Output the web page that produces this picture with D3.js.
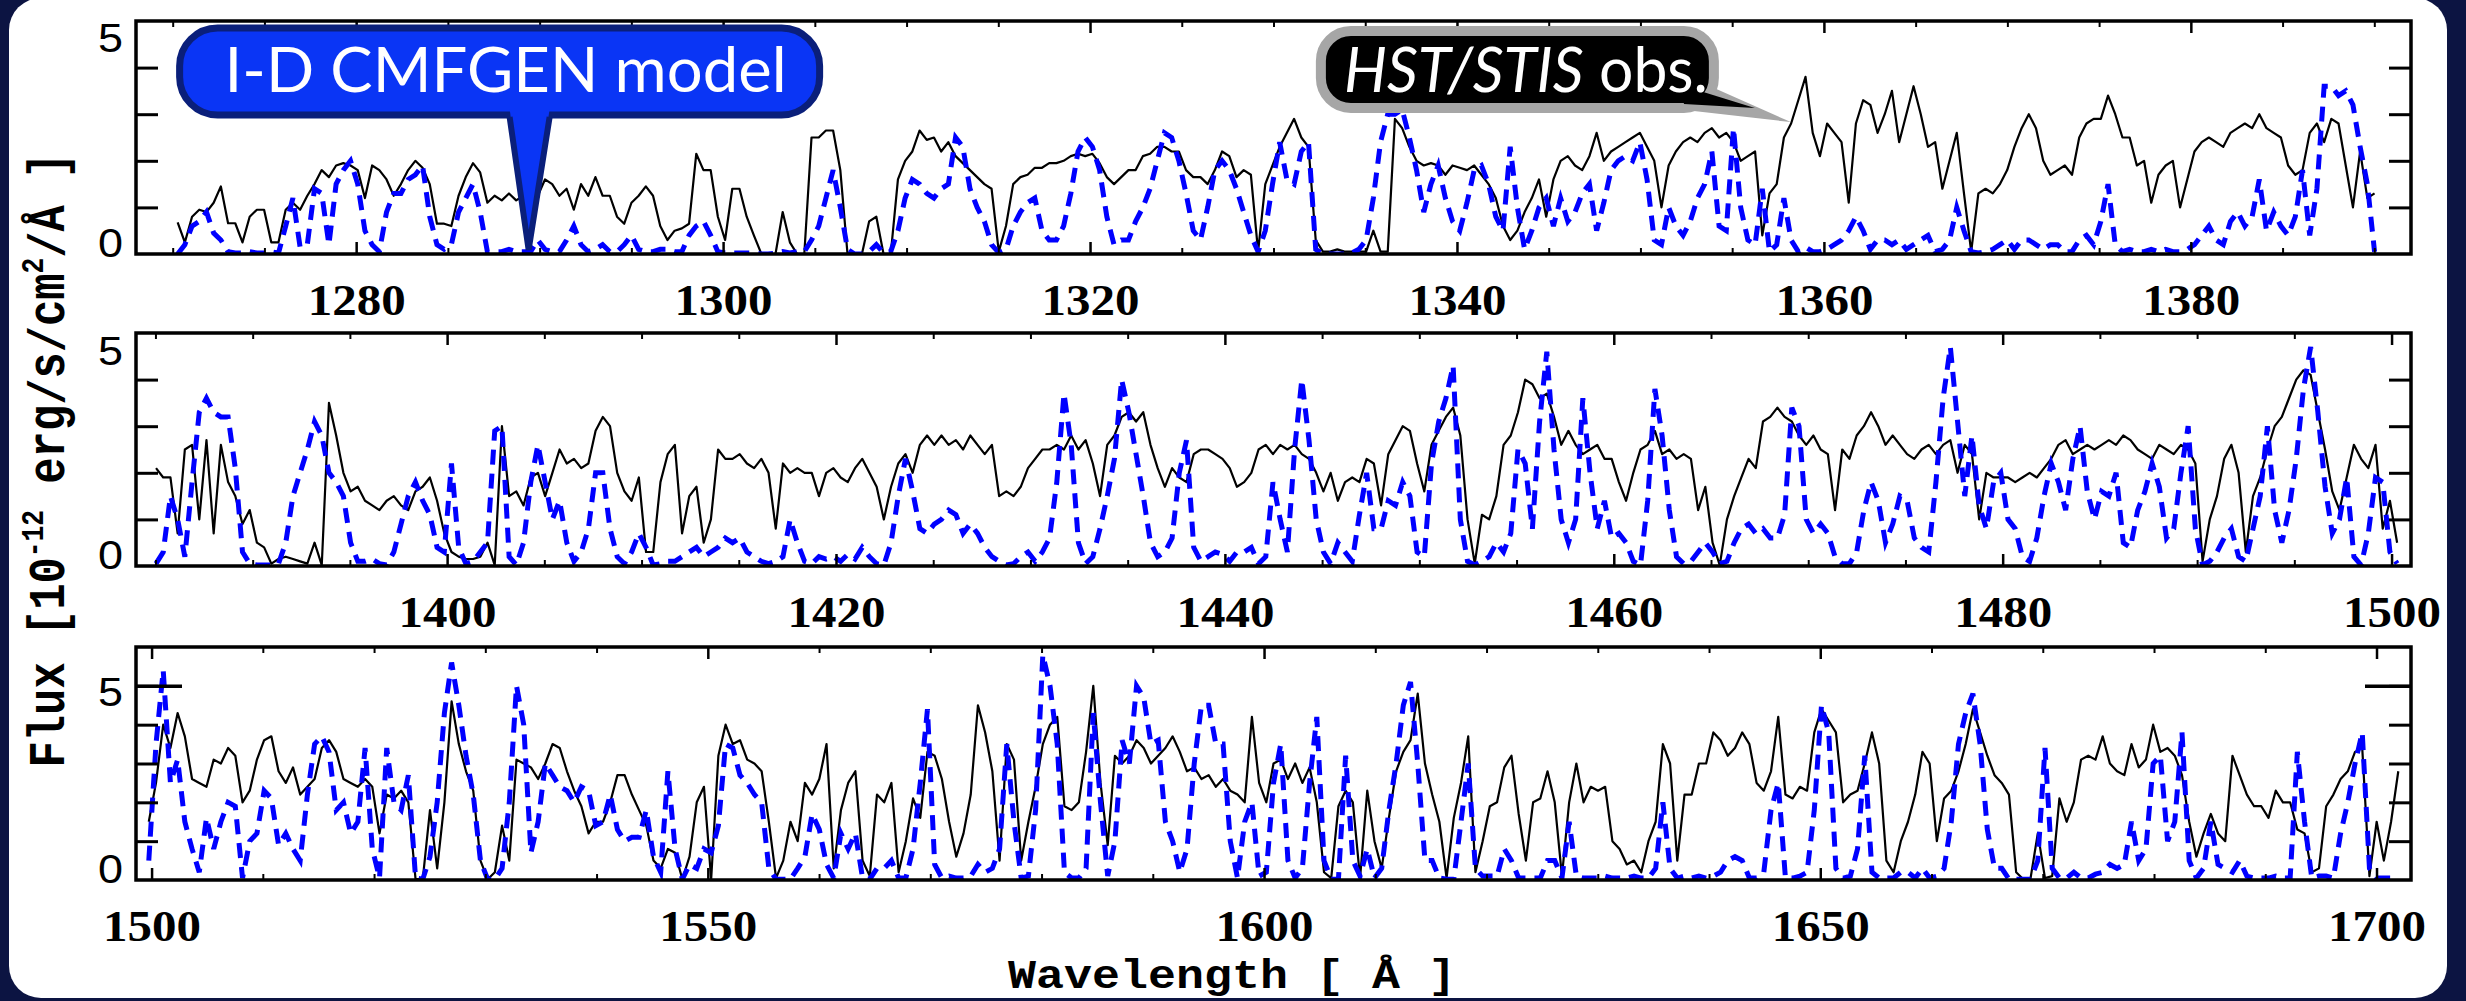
<!DOCTYPE html>
<html>
<head>
<meta charset="utf-8">
<script src="https://cdn.jsdelivr.net/npm/d3@7"></script>
<style>
  html, body { margin: 0; padding: 0; background: #0c1442; }
  svg { display: block; }
</style>
</head>
<body>
<svg id="chart" width="2466" height="1001"></svg>
<script>
// --- spectra (flux in 1e-12 erg/s/cm2/A) ---
// each panel is sampled on a regular wavelength grid: start + i*step
const waveStart = [1270.27, 1385.03, 1499.75];
const waveStep  = [0.3926, 0.3706, 0.6481];

const xTicks1 = [1280, 1300, 1320, 1340, 1360, 1380];
const xTicks2 = [1400, 1420, 1440, 1460, 1480, 1500];
const xTicks3 = [1500, 1550, 1600, 1650, 1700];
const yLabels = [0, 5];

const obsPanel1 = [
  0.68,0.25,0.8,0.95,0.9,1.1,1.45,0.66,0.66,0.25,
  0.8,0.95,0.95,0.25,0.25,0.95,1.1,0.95,1.25,1.5,
  1.8,1.65,1.9,1.95,1.9,1.8,1.2,1.9,1.8,1.6,
  1.25,1.5,1.8,2.0,1.85,1.5,0.65,0.65,0.6,1.25,
  1.65,1.95,1.75,1.1,1.25,1.15,1.3,1.15,1.25,1.0,
  1.25,1.6,1.5,1.25,1.4,0.95,1.5,1.25,1.65,1.25,
  1.25,0.8,0.65,1.1,1.25,1.45,1.25,0.6,0.3,0.5,
  0.55,0.65,2.15,1.8,1.8,0.8,0.3,1.4,1.4,0.8,
  0.4,0.02,0,0,0.9,0.25,0,0,2.5,2.5,
  2.65,2.65,1.8,0,0,0,0.7,0.8,0,0,
  1.6,2.0,2.2,2.65,2.45,2.5,2.2,2.4,2.1,1.95,
  1.8,1.65,1.5,1.4,0.05,0.6,1.5,1.65,1.7,1.85,
  1.85,1.95,1.95,2.0,2.1,2.15,2.1,2.15,1.95,1.65,
  1.5,1.65,1.8,1.8,2.1,2.15,2.3,2.3,2.2,2.2,
  1.8,1.65,1.65,1.5,1.8,2.2,2.1,1.65,
  1.8,1.7,0.05,1.5,1.9,2.3,2.6,2.9,2.5,2.3,
  0.3,0.05,0.05,0.1,0.05,0.05,0.05,0.05,0.5,0.05,
  0.05,2.9,2.7,2.3,2.0,1.9,1.95,1.9,1.7,1.9,
  1.85,1.8,1.9,1.7,1.5,1.2,0.6,0.3,0.5,0.9,
  1.2,1.6,0.8,1.6,2.0,2.1,1.9,1.8,2.1,2.6,
  2.0,2.2,2.3,2.4,2.5,2.6,2.3,2.0,1.0,1.9,
  2.2,2.4,2.5,2.4,2.6,2.7,2.5,2.6,2.4,2.0,
  2.1,2.2,0.4,1.3,1.5,2.5,2.8,3.3,3.8,2.6,
  2.1,2.8,2.6,2.4,1.1,2.8,3.3,3.2,2.6,3.0,
  3.5,2.4,3.0,3.6,3.0,2.3,2.4,1.4,2.0,2.6,
  1.3,0.05,1.3,1.4,1.3,1.5,1.8,2.3,2.7,3.0,
  2.7,2.0,1.7,1.8,1.9,1.7,2.5,2.8,2.9,2.9,
  3.4,3.0,2.5,2.5,1.9,2.0,1.1,1.7,1.9,2.0,
  1.0,1.6,2.2,2.4,2.5,2.4,2.3,2.6,2.7,2.8,
  2.7,3.0,2.7,2.6,2.5,1.9,1.7,1.8,2.6,2.8,
  2.4,2.9,2.8,1.9,1.0,2.2,1.2,1.3
];

const modelPanel1 = [
  0,0.2,0.6,0.7,0.9,0.45,0.3,0.05,0.02,0.02,
  0.05,0.02,0.02,0.05,0.02,0.6,1.2,0.15,0.2,1.4,
  1.3,0.2,1.5,1.8,2.0,1.5,0.5,0.2,0.05,0.9,
  1.3,1.3,1.6,1.7,1.9,0.8,0.2,0.1,0.2,0.9,
  1.2,1.5,0.9,0.05,0.05,0.05,0.1,0.05,0.05,0.05,
  0.3,0.1,0.05,0.05,0.3,0.6,0.2,0.05,0.1,0.2,
  0.05,0.05,0.2,0.4,0.1,0.05,0.05,0.1,0.1,0.05,
  0.05,0.4,0.6,0.7,0.4,0.05,0.02,0.02,0.02,0.02,
  0.02,0,0,0.02,0.05,0.02,0.05,0.05,0.3,0.6,
  1.2,1.8,1.0,0.1,0,0,0.05,0.2,0.02,0.05,
  0.5,1.2,1.6,1.5,1.3,1.2,1.4,1.5,2.5,2.3,
  1.4,1.0,0.7,0.2,0.03,0.1,0.6,0.9,1.1,1.2,
  0.5,0.3,0.3,0.6,1.3,2.2,2.5,2.3,1.8,0.8,
  0.2,0.3,0.3,0.7,1.0,1.4,2.0,2.6,2.5,2.0,
  1.3,0.5,0.3,1.0,1.8,2.0,1.8,1.4,
  0.9,0.4,0.05,0.5,1.5,2.4,1.6,1.5,2.2,2.4,
  0.1,0,0,0,0,0.02,0.1,0.3,1.2,2.4,
  3.0,3.0,3.1,2.5,1.8,0.9,1.5,1.9,1.2,0.7,
  0.5,1.1,1.8,1.9,1.5,0.8,0.5,2.3,1.0,0.1,
  0.5,1.0,1.2,0.6,1.2,0.7,0.9,1.3,1.5,0.5,
  1.1,1.8,2.0,2.1,2.0,2.4,1.6,0.3,0.2,1.0,
  0.6,0.4,0.7,1.2,1.5,2.2,0.6,0.5,2.7,1.0,
  0.3,0.2,1.4,0.05,0.2,1.2,0.3,0.05,0.15,0.05,
  0.05,0.1,0.2,0.3,0.5,0.8,0.5,0.1,0.3,0.3,
  0.2,0.3,0.1,0.2,0.3,0.4,0.05,0.1,0.3,1.0,
  0.5,0.05,0.02,0.05,0.1,0.2,0.3,0.1,0.3,0.3,
  0.2,0.1,0.2,0.2,0.05,0.05,0.3,0.4,0.2,0.7,
  1.5,0.2,0.05,0.1,0.05,0.05,0.1,0.05,0.1,0.05,
  0.05,0.1,0.2,0.4,0.6,0.3,0.2,0.7,0.9,0.6,
  0.8,1.6,0.5,0.9,0.6,0.4,0.8,1.8,0.4,1.4,
  3.6,3.6,3.4,3.5,3.2,2.3,1.5,0.05
];

const obsPanel2 = [
  2.1,1.9,1.9,0.7,2.5,2.6,1.0,2.7,0.7,2.6,
  1.8,1.5,0.9,1.2,0.5,0.4,0.05,0.15,0.2,0.15,
  0.1,0.05,0.5,0.02,3.5,2.8,2.0,1.6,1.7,1.4,
  1.3,1.2,1.4,1.5,1.3,1.2,1.6,1.7,1.9,1.4,
  0.7,0.3,0.2,0.15,0.15,0.2,0.5,0.02,3.0,1.5,
  1.6,1.3,1.9,2.0,1.5,2.0,2.5,2.2,2.3,2.1,
  2.2,2.9,3.2,3.0,2.0,1.6,1.4,1.9,0.3,0.3,
  1.8,2.4,2.6,0.7,1.5,1.7,0.5,1.0,2.5,2.3,
  2.3,2.4,2.2,2.1,2.3,2.0,0.8,2.2,2.0,2.1,
  2.0,2.0,1.5,2.0,2.1,1.9,1.8,2.1,2.3,2.0,
  1.7,1.0,1.7,2.2,2.4,2.0,2.6,2.8,2.6,2.8,
  2.6,2.7,2.5,2.8,2.6,2.4,2.6,1.5,1.6,1.5,
  1.7,2.1,2.3,2.5,2.5,2.6,2.5,2.8,2.5,2.7,
  2.2,1.5,2.6,2.8,3.2,3.3,3.1,3.3,2.6,2.1,
  1.7,2.1,1.9,1.8,2.4,2.5,2.5,2.4,2.3,2.1,
  1.7,
  1.8,2.0,2.5,2.6,2.4,2.6,2.5,2.6,2.4,2.3,
  2.0,1.6,2.0,1.4,1.8,1.9,1.8,2.3,2.2,1.3,
  2.4,2.7,3.0,2.9,2.2,1.6,2.6,2.9,3.2,3.4,
  2.8,1.0,0.05,1.1,1.0,1.5,2.6,2.8,3.3,4.0,
  3.9,3.6,3.7,3.2,2.6,2.9,2.6,2.4,2.5,2.6,
  2.3,2.3,1.8,1.4,2.0,2.5,2.6,2.9,2.4,2.5,
  2.3,2.4,2.3,1.2,1.7,0.5,0.02,1.0,1.5,1.9,
  2.3,2.1,3.1,3.2,3.4,3.2,3.1,2.8,2.6,2.8,
  2.5,2.4,1.2,2.5,2.3,2.8,3.0,3.3,3.0,2.6,
  2.8,2.6,2.4,2.3,2.5,2.6,2.4,2.6,2.7,2.0,
  2.6,2.4,1.0,2.0,1.9,1.9,1.9,1.8,1.9,2.0,
  1.9,2.1,2.3,2.6,2.7,2.4,2.5,2.6,2.5,2.6,
  2.7,2.6,2.8,2.7,2.5,2.4,2.3,2.6,2.5,2.4,
  2.6,2.5,2.2,0.1,1.0,1.5,2.3,2.6,2.0,0.3,
  1.5,1.9,2.5,3.0,3.2,3.6,4.0,4.2,4.1,3.3,
  2.5,1.6,1.2,1.9,2.6,2.3,2.1,2.6,0.8,1.4,
  0.5
];

const modelPanel2 = [
  0.05,0.3,1.5,1.0,0.2,1.8,3.3,3.6,3.3,3.2,
  3.2,2.1,0.3,0.05,0.02,0.02,0.02,0.05,0.5,1.5,
  2.0,2.5,3.1,2.8,2.0,1.8,1.5,0.5,0.1,0.1,
  0.15,0.05,0.02,0.3,0.9,1.5,1.8,1.4,1.1,0.4,
  0.3,2.2,0.4,0.05,0.1,0.3,0.5,2.9,3.0,0.2,
  0.02,0.5,1.8,2.6,1.8,1.0,1.4,0.5,0.1,0.3,
  0.8,2.0,2.0,0.8,0.2,0.05,0.3,0.7,0.4,0.02,
  0.05,0.1,0.1,0.2,0.3,0.4,0.2,0.3,0.4,0.6,
  0.5,0.6,0.3,0.2,0.1,0.05,0.1,0.2,1.0,0.5,
  0.1,0.05,0.2,0.15,0.2,0.1,0.25,0.15,0.4,0.2,
  0.05,0.02,0.5,1.5,2.3,1.6,0.8,0.7,0.9,1.0,
  1.2,1.1,0.7,0.9,0.7,0.4,0.2,0.1,0.02,0.05,
  0.2,0.3,0.1,0.3,0.6,1.8,3.7,2.6,0.5,0.05,
  0.2,0.8,1.5,2.3,4.0,3.3,2.4,1.5,0.5,0.2,
  0.3,0.6,2.0,2.7,0.4,0.1,0.2,0.3,0.25,0.1,
  0.3,
  0.3,0.4,0.05,0.2,1.8,1.0,0.3,2.5,4.0,2.7,
  1.0,0.3,0.05,0.5,0.3,0.1,1.1,2.0,0.8,0.8,
  1.4,1.3,1.8,1.5,0.3,0.2,2.2,3.1,3.6,4.3,
  1.0,0.1,0.02,0.1,0.2,0.5,0.3,0.7,2.5,2.2,
  0.8,3.1,4.6,2.5,1.0,0.5,1.0,3.6,2.0,0.8,
  1.4,0.6,0.7,0.5,0.1,0.02,1.4,3.8,2.8,1.2,
  0.2,0.05,0.1,0.3,0.5,0.3,0.05,0.1,0.5,0.8,
  0.9,0.7,0.8,0.6,0.6,1.1,3.4,3.0,1.0,0.7,
  0.9,0.7,0.2,0.05,0.05,0.3,1.2,1.8,1.4,0.5,
  0.9,1.5,1.4,0.6,0.4,0.3,1.8,3.6,4.7,3.1,
  1.5,2.8,1.3,0.8,1.8,2.0,1.0,0.8,0.2,0.1,
  0.6,1.5,2.2,1.8,1.2,2.3,3.0,1.6,1.0,1.6,
  1.5,2.0,0.5,0.4,1.2,1.6,2.2,1.7,0.6,0.8,
  2.0,3.0,0.8,0.02,0.1,0.3,0.6,0.8,0.2,0.1,
  0.8,1.5,3.0,1.2,0.5,1.2,2.3,3.8,4.7,3.3,
  1.7,0.7,1.0,1.9,0.2,0.02,0.7,1.9,1.8,0.3,
  0.05
];

const obsPanel3 = [
  1.5,2.5,4.0,3.4,4.3,3.7,2.6,2.5,2.4,3.1,
  3.0,3.4,3.2,2.0,2.3,3.1,3.6,3.7,2.8,2.5,
  2.9,2.2,2.4,2.6,3.4,3.6,3.3,2.6,2.5,2.4,
  2.6,2.4,1.2,2.2,2.1,2.3,2.0,0.02,0.02,1.8,
  0.3,2.0,4.6,3.5,2.8,2.3,0.5,0.02,0.2,1.4,
  0.5,3.1,3.0,2.9,2.6,3.0,3.5,3.4,2.8,2.3,
  1.9,1.2,1.5,1.5,2.0,2.7,2.7,2.2,1.8,1.4,
  0.5,0.3,0.8,0.7,0.02,0.6,2.0,2.4,0.02,3.2,
  4.0,3.5,3.6,3.1,3.0,2.8,1.5,0.05,0.5,1.5,
  1.0,2.5,2.2,2.6,3.5,0.3,1.8,2.5,2.8,0.5,
  0.1,2.2,2.0,2.5,0.2,1.0,2.1,1.6,3.3,3.2,
  2.6,1.5,0.6,1.2,2.2,4.5,3.8,2.8,0.5,3.5,
  3.1,0.5,1.5,2.4,3.5,4.0,4.2,1.9,1.8,2.0,
  3.3,5.0,2.5,0.9,3.2,3.0,3.2,3.6,3.4,3.0,
  3.2,3.4,3.7,3.3,2.8,2.9,2.6,2.7,2.4,2.6,
  2.3,2.2,
  2.0,4.2,2.5,2.0,3.0,3.1,2.6,3.0,2.5,2.9,
  2.0,0.2,0.05,1.9,2.3,2.0,0.05,2.3,1.0,0.3,
  1.6,2.8,3.3,3.6,4.8,3.0,2.2,1.5,0.05,1.6,
  2.5,3.7,0.2,1.0,1.9,2.0,2.9,3.2,1.7,0.5,
  2.0,2.1,2.8,2.0,0.1,2.0,3.0,2.0,2.4,2.3,
  2.4,1.0,0.8,0.4,0.5,0.2,1.0,1.5,3.5,3.0,
  0.5,2.2,2.2,3.0,3.0,3.8,3.6,3.2,3.4,3.8,
  3.5,2.5,2.3,2.8,4.2,2.2,2.1,2.4,2.3,3.8,
  4.4,4.1,3.8,2.0,2.2,2.3,3.0,3.8,3.0,0.5,
  0.2,1.0,1.5,2.2,3.3,3.0,1.0,2.1,2.3,2.8,
  3.5,4.4,3.8,3.2,2.7,2.5,2.2,0.2,0.02,0.05,
  1.2,0.05,0.1,2.1,1.5,2.0,3.1,3.2,3.1,3.7,
  3.0,2.8,2.7,3.5,2.9,3.1,4.0,3.3,3.4,3.2,
  2.7,1.5,0.6,1.2,1.7,1.2,1.0,3.2,2.7,2.2,
  1.9,1.9,1.6,2.3,2.0,2.0,1.3,1.2,0.2,0.3,
  1.9,2.2,2.6,2.8,3.3,3.4,0.1,1.5,0.5,1.5,
  2.8
];

const modelPanel3 = [
  0.5,3.5,5.4,2.5,3.1,1.5,0.8,0.2,1.6,0.8,
  1.5,2.0,1.9,0.05,1.0,1.2,2.3,2.1,0.9,1.2,
  0.8,0.5,2.2,3.5,3.7,3.3,1.8,2.0,1.2,1.5,
  3.4,0.8,0.05,3.4,2.0,1.8,2.7,0.05,0.02,0.6,
  2.0,4.3,5.6,4.5,3.2,2.2,0.5,0.02,0.02,0.3,
  2.0,5.0,4.0,0.7,1.5,3.0,2.7,2.4,2.3,2.0,
  2.4,2.3,1.4,1.5,2.2,1.3,1.0,1.1,1.1,1.8,
  0.6,0.2,2.8,0.8,0.02,0.4,0.3,0.8,0.7,1.4,
  3.5,3.4,2.7,2.5,2.2,2.0,0.3,0.02,0.02,0.02,
  0.3,0.6,1.7,1.3,0.4,0.05,1.2,0.8,1.2,0.05,
  0.02,0.3,0.3,0.5,0.05,0.05,0.8,2.5,4.4,0.4,
  0.05,0.1,0.05,0.05,0.1,0.4,0.2,0.3,0.8,3.5,
  1.5,0.05,0.1,1.8,5.8,5.0,3.5,0.2,0.05,0.05,
  0.3,4.3,2.0,0.1,1.0,3.6,3.0,5.0,4.7,3.5,
  3.6,1.5,1.0,0.2,0.8,3.0,4.5,4.5,3.5,3.5,
  1.0,0.05,
  1.5,2.0,0.1,0.2,2.5,3.5,0.5,0.05,0.3,2.5,
  4.2,0.5,0.02,0.02,3.2,0.5,0.1,0.8,0.05,0.3,
  1.8,3.0,4.5,5.1,3.0,0.5,0.5,0.05,0.02,0.02,
  1.5,3.0,0.3,0.1,0.1,0.1,0.8,0.5,0.05,0.05,
  0.05,0.05,0.5,0.5,0.05,1.5,0.1,0.05,0.05,0.05,
  0.1,0.05,0.05,0.05,0.1,0.05,0.05,0.3,2.0,0.3,
  0.05,0.1,0.05,0.1,0.05,0.1,0.2,0.5,0.6,0.5,
  0.05,0.05,0.2,1.8,2.5,0.05,0.05,0.1,0.2,1.8,
  4.5,3.8,0.3,0.05,0.1,0.8,3.2,0.2,0.05,0.05,
  0.05,0.2,0.2,0.05,0.3,0.05,0.1,0.3,1.5,3.5,
  4.3,4.8,3.5,1.3,0.3,0.3,0.02,0.02,0.02,0.02,
  0.5,3.4,0.3,0.05,0.05,0.2,0.05,0.05,0.15,0.2,
  0.4,0.3,0.4,1.5,0.5,0.8,3.0,3.2,1.0,1.5,
  3.8,0.5,0.05,0.3,1.5,0.4,0.3,0.2,0.5,0.1,
  0.05,0.05,0.05,0.1,0.05,0.05,3.3,1.5,0.05,0.1,
  0.1,0.05,1.2,2.0,3.0,3.8,0.3,0.05,0.05,0.05,
  0.05
];

// --- drawing ---
const svg = d3.select("#chart");
const W = 2466, H = 1001;

svg.append("rect").attr("width", W).attr("height", H).attr("fill", "#0c1442");
svg.append("rect")
  .attr("x", 9).attr("y", -2).attr("width", 2438).attr("height", 1000)
  .attr("rx", 32).attr("fill", "#ffffff");

const plotLeft = 136, plotRight = 2411;
const tickFont = "'Liberation Serif', 'Times New Roman', serif";
const yLabFont = "'Liberation Sans', Arial, sans-serif";

const panels = [
  { top: 21,  bottom: 254, domain: [1268, 1392],     yMax: 5, minor: 5,  ticks: xTicks1, obs: obsPanel1, model: modelPanel1, fiveOff: 17 },
  { top: 333, bottom: 566, domain: [1384, 1501],     yMax: 5, minor: 5,  ticks: xTicks2, obs: obsPanel2, model: modelPanel2, fiveOff: 18 },
  { top: 647, bottom: 880, domain: [1498.6, 1703.1], yMax: 6, minor: 10, ticks: xTicks3, obs: obsPanel3, model: modelPanel3, fiveOff: 6 }
];

const defs = svg.append("defs");
const scales = [];

panels.forEach((p, k) => {
  const x = d3.scaleLinear().domain(p.domain).range([plotLeft, plotRight]);
  const y = d3.scaleLinear().domain([0, p.yMax]).range([p.bottom, p.top]);
  scales.push({ x, y });

  defs.append("clipPath").attr("id", "clip" + k)
    .append("rect")
    .attr("x", plotLeft).attr("y", p.top)
    .attr("width", plotRight - plotLeft).attr("height", p.bottom - p.top);

  const g = svg.append("g");
  const start = waveStart[k], step = waveStep[k];

  const line = d3.line()
    .x((d, i) => x(start + i * step))
    .y(d => y(d));

  const lines = g.append("g").attr("clip-path", `url(#clip${k})`);
  lines.append("path")
    .datum(p.obs)
    .attr("d", line)
    .attr("fill", "none")
    .attr("stroke", "#000")
    .attr("stroke-width", 2.2)
    .attr("stroke-linejoin", "round");
  lines.append("path")
    .datum(p.model)
    .attr("d", line)
    .attr("fill", "none")
    .attr("stroke", "#0000ff")
    .attr("stroke-width", 5)
    .attr("stroke-dasharray", "15,9");

  // minor x ticks (every 5 or 10 A)
  const minorVals = d3.range(Math.ceil(p.domain[0] / p.minor) * p.minor, p.domain[1], p.minor)
    .filter(v => !p.ticks.includes(v));

  const styleTicks = (sel, w) => {
    sel.select(".domain").remove();
    sel.selectAll(".tick line").attr("stroke", "#000").attr("stroke-width", w);
  };

  g.append("g").attr("transform", `translate(0,${p.bottom})`)
    .call(d3.axisBottom(x).tickValues(minorVals).tickSize(-6).tickFormat(""))
    .call(s => styleTicks(s, 2));
  g.append("g").attr("transform", `translate(0,${p.top})`)
    .call(d3.axisTop(x).tickValues(minorVals).tickSize(-6).tickFormat(""))
    .call(s => styleTicks(s, 2));
  g.append("g").attr("transform", `translate(0,${p.top})`)
    .call(d3.axisTop(x).tickValues(p.ticks).tickSize(-12).tickFormat(""))
    .call(s => styleTicks(s, 2.5));

  const bottomAxis = g.append("g").attr("transform", `translate(0,${p.bottom})`)
    .call(d3.axisBottom(x).tickValues(p.ticks).tickSize(-12).tickPadding(30).tickFormat(d3.format("d")))
    .call(s => styleTicks(s, 2.5));
  bottomAxis.selectAll("text")
    .attr("fill", "#000")
    .style("font-family", tickFont)
    .style("font-weight", "bold")
    .style("font-size", "44px")
    .attr("textLength", 98)
    .attr("lengthAdjust", "spacingAndGlyphs");

  // y ticks
  const yMinor = d3.range(1, p.yMax);
  g.append("g").attr("transform", `translate(${plotLeft},0)`)
    .call(d3.axisLeft(y).tickValues(yMinor).tickSize(-22).tickFormat(""))
    .call(s => styleTicks(s, 3));
  g.append("g").attr("transform", `translate(${plotRight},0)`)
    .call(d3.axisRight(y).tickValues(yMinor).tickSize(-22).tickFormat(""))
    .call(s => styleTicks(s, 3));
  if (p.yMax > 5) {
    g.append("g").attr("transform", `translate(${plotLeft},0)`)
      .call(d3.axisLeft(y).tickValues([5]).tickSize(-46).tickFormat(""))
      .call(s => styleTicks(s, 3.5));
    g.append("g").attr("transform", `translate(${plotRight},0)`)
      .call(d3.axisRight(y).tickValues([5]).tickSize(-46).tickFormat(""))
      .call(s => styleTicks(s, 3.5));
  }

  g.selectAll("text.ylab")
    .data(yLabels)
    .join("text")
    .attr("class", "ylab")
    .attr("x", plotLeft - 13)
    .attr("y", d => y(d) + (d === 0 ? -11 : p.fiveOff))
    .attr("text-anchor", "end")
    .attr("dominant-baseline", "central")
    .style("font-family", yLabFont)
    .style("font-size", "40px")
    .attr("textLength", 25)
    .attr("lengthAdjust", "spacingAndGlyphs")
    .text(d => d);

  // frame
  g.append("rect")
    .attr("x", plotLeft).attr("y", p.top)
    .attr("width", plotRight - plotLeft).attr("height", p.bottom - p.top)
    .attr("fill", "none").attr("stroke", "#000").attr("stroke-width", 3.5);
});

// axis titles
const monoFont = "'Liberation Mono', 'DejaVu Sans Mono', monospace";
svg.append("text")
  .attr("x", 1232).attr("y", 988)
  .attr("text-anchor", "middle")
  .style("font-family", monoFont).style("font-weight", "bold").style("font-size", "40px")
  .attr("textLength", 448).attr("lengthAdjust", "spacingAndGlyphs")
  .text("Wavelength [ Å ]");

const yTitleG = svg.append("g");
const yTitle = yTitleG.append("text")
  .attr("x", 0).attr("y", 13)
  .attr("text-anchor", "middle")
  .style("font-family", monoFont).style("font-weight", "bold").style("font-size", "40px");
yTitle.append("tspan").text("Flux [10");
yTitle.append("tspan").attr("dy", -16).style("font-size", "24px").text("-12");
yTitle.append("tspan").attr("dy", 16).text(" erg/s/cm");
yTitle.append("tspan").attr("dy", -16).style("font-size", "24px").text("2");
yTitle.append("tspan").attr("dy", 16).text("/Å ]");
const yLen = yTitle.node().getComputedTextLength() || 600;
const ySc = 615 / yLen;
yTitleG.attr("transform", `translate(47,460) scale(1.17,1) rotate(-90) scale(${ySc})`);

// --- callouts ---
const s1 = scales[0];
const modelTip = [s1.x(1289.4), s1.y(0.09)];
const obsTip = [s1.x(1358.2), s1.y(2.83)];

// model callout (blue)
const mb = { x: modelTip[0] - 349, y: 28, w: 640, h: 87 };
const callA = svg.append("g");
callA.append("rect")
  .attr("x", mb.x).attr("y", mb.y).attr("width", mb.w).attr("height", mb.h)
  .attr("rx", 38)
  .attr("fill", "#0a35f5").attr("stroke", "#0a1f7a").attr("stroke-width", 7);
const wedge = [[modelTip[0] - 19, mb.y + mb.h - 6], [modelTip[0], modelTip[1]], [modelTip[0] + 21, mb.y + mb.h - 6]];
callA.append("polygon")
  .attr("points", wedge.map(d => d.join(",")).join(" "))
  .attr("fill", "#0a35f5");
callA.append("polyline")
  .attr("points", [[wedge[0][0], mb.y + mb.h + 2], wedge[1], [wedge[2][0], mb.y + mb.h + 2]].map(d => d.join(",")).join(" "))
  .attr("fill", "none").attr("stroke", "#0a1f7a").attr("stroke-width", 6).attr("stroke-linejoin", "miter");
callA.append("text")
  .attr("x", mb.x + 45).attr("y", 92)
  .attr("fill", "#fff")
  .style("font-family", "Lato, 'Open Sans', sans-serif")
  .style("font-size", "62px")
  .attr("textLength", 562).attr("lengthAdjust", "spacingAndGlyphs")
  .text("I-D CMFGEN model");

// observation callout (black with grey rim)
const ob = { x: obsTip[0] - 470, y: 31, w: 393, h: 77 };
const callB = svg.append("g");
callB.append("polygon")
  .attr("points", [[ob.x + ob.w - 20, ob.y + 48], [obsTip[0], obsTip[1]], [ob.x + ob.w - 20, ob.y + 80]].map(d => d.join(",")).join(" "))
  .attr("fill", "#a6a6a6");
callB.append("rect")
  .attr("x", ob.x).attr("y", ob.y).attr("width", ob.w).attr("height", ob.h)
  .attr("rx", 30)
  .attr("fill", "#000").attr("stroke", "#a6a6a6").attr("stroke-width", 10);
callB.append("polygon")
  .attr("points", [[ob.x + ob.w - 30, ob.y + 55], [obsTip[0] - 36, obsTip[1] - 14], [ob.x + ob.w - 30, ob.y + 73]].map(d => d.join(",")).join(" "))
  .attr("fill", "#000");
const obsText = callB.append("text")
  .attr("x", ob.x + 23).attr("y", 92)
  .attr("fill", "#fff")
  .style("font-family", "Lato, 'Open Sans', sans-serif")
  .style("font-size", "62px")
  .attr("textLength", 364).attr("lengthAdjust", "spacingAndGlyphs");
obsText.append("tspan").style("font-style", "italic").text("HST/STIS");
obsText.append("tspan").text(" obs.");
</script>
</body>
</html>
